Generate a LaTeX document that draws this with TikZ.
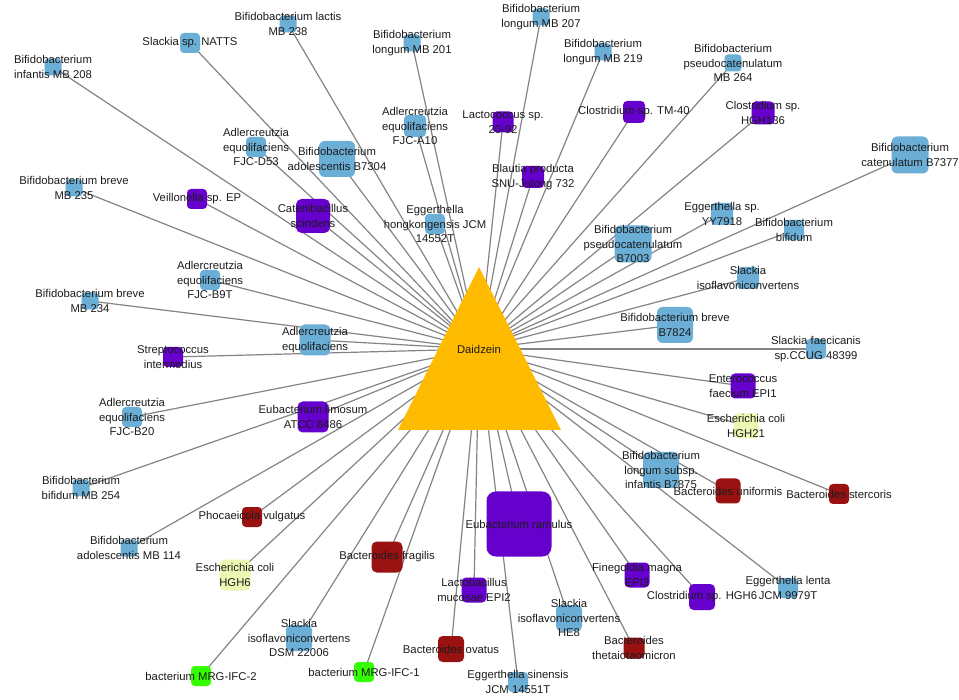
\documentclass[tikz,border=0pt]{standalone}
\usepackage{fontspec}
\setmainfont{Liberation Sans}
\definecolor{bluenode}{RGB}{107,174,214}
\definecolor{purplenode}{RGB}{102,0,204}
\definecolor{rednode}{RGB}{153,17,17}
\definecolor{yellownode}{RGB}{237,246,178}
\definecolor{greennode}{RGB}{51,255,0}
\definecolor{hubcolor}{RGB}{255,187,0}
\definecolor{edgecolor}{RGB}{132,132,132}
\definecolor{labeltext}{RGB}{28,28,28}
\pgfdeclarelayer{canvas}
\pgfdeclarelayer{edges}
\pgfdeclarelayer{labels}
\pgfsetlayers{canvas,edges,main,labels}
\tikzset{
  blu/.style={fill=bluenode},
  pur/.style={fill=purplenode},
  red/.style={fill=rednode},
  yel/.style={fill=yellownode},
  grn/.style={fill=greennode},
  sq/.style={rectangle, inner sep=0pt, draw=none},
  lbl/.style={inner sep=0pt, align=center, text=labeltext,
    font=\fontsize{11.3}{14.5}\selectfont},
  edge/.style={draw=edgecolor, line width=1.2pt},
}
% #1 name, #2 position, #3 square size, #4 colour style, #5 text
\newcommand\taxon[5]{%
  \node[sq,#4,minimum size=#3pt,rounded corners={0.12*#3pt+1.5pt}] (#1) at (#2) {};
  \begin{pgfonlayer}{edges}\draw[edge] (#1.center) -- (dz.center);\end{pgfonlayer}
  \begin{pgfonlayer}{labels}\node[lbl] (#1-t) at (#1.center) {#5};\end{pgfonlayer}
}
\begin{document}
\begin{tikzpicture}[x=1pt,y=-1pt]
\begin{pgfonlayer}{canvas}
\fill[white] (0,0) rectangle (959,700);
\end{pgfonlayer}
\useasboundingbox (0,0) rectangle (959,700);
% central compound
\fill[hubcolor] (479,267) -- (561,430) -- (398,430) -- cycle;
\node[lbl] (dz) at (479,349) {Daidzein};
% strains
\taxon{infMB208}{53,67}{17}{blu}{Bifidobacterium\\infantis MB 208}
\taxon{natts}{190,43}{20}{blu}{Slackia sp. NATTS}
\taxon{lacMB238}{288,24}{17}{blu}{Bifidobacterium lactis\\MB 238}
\taxon{lonMB201}{412,43}{17}{blu}{Bifidobacterium\\longum MB 201}
\taxon{lonMB207}{541,17}{17}{blu}{Bifidobacterium\\longum MB 207}
\taxon{lonMB219}{603,52}{17}{blu}{Bifidobacterium\\longum MB 219}
\taxon{psMB264}{733,63}{17}{blu}{Bifidobacterium\\pseudocatenulatum\\MB 264}
\taxon{cloHGH136}{763,113}{23}{pur}{Clostridium sp.\\HGH136}
\taxon{catB7377}{910,155}{37}{blu}{Bifidobacterium\\catenulatum B7377}
\taxon{cloTM40}{634,112}{22}{pur}{Clostridium sp. TM-40}
\taxon{lac2092}{503,122}{21}{pur}{Lactococcus sp.\\20-92}
\taxon{fjcA10}{415,126}{22}{blu}{Adlercreutzia\\equolifaciens\\FJC-A10}
\taxon{blautia}{533,177}{22}{pur}{Blautia producta\\SNU-Julong 732}
\taxon{adoB7304}{337,159}{36}{blu}{Bifidobacterium\\adolescentis B7304}
\taxon{fjcD53}{256,147}{20}{blu}{Adlercreutzia\\equolifaciens\\FJC-D53}
\taxon{cateni}{313,216}{34}{pur}{Catenibacillus\\scindens}
\taxon{hongk}{435,224}{20}{blu}{Eggerthella\\hongkongensis JCM\\14552T}
\taxon{veill}{197,199}{20}{pur}{Veillonella sp. EP}
\taxon{brvMB235}{74,188}{17}{blu}{Bifidobacterium breve\\MB 235}
\taxon{fjcB9T}{210,280}{20}{blu}{Adlercreutzia\\equolifaciens\\FJC-B9T}
\taxon{brvMB234}{90,301}{17}{blu}{Bifidobacterium breve\\MB 234}
\taxon{adler}{315,340}{31}{blu}{Adlercreutzia\\equolifaciens}
\taxon{strep}{173,357}{20}{pur}{Streptococcus\\intermedius}
\taxon{fjcB20}{132,417}{20}{blu}{Adlercreutzia\\equolifaciens\\FJC-B20}
\taxon{limosum}{313,417}{31}{pur}{Eubacterium limosum\\ATCC 8486}
\taxon{bifMB254}{81,488}{17}{blu}{Bifidobacterium\\bifidum MB 254}
\taxon{phoc}{252,517}{20}{red}{Phocaeicola vulgatus}
\taxon{adoMB114}{129,548}{17}{blu}{Bifidobacterium\\adolescentis MB 114}
\taxon{ecHGH6}{235,575}{31}{yel}{Escherichia coli\\HGH6}
\taxon{slDSM}{299,638}{26}{blu}{Slackia\\isoflavoniconvertens\\DSM 22006}
\taxon{mrg2}{201,676}{20}{grn}{bacterium MRG-IFC-2}
\taxon{fragilis}{387,557}{31}{red}{Bacteroides fragilis}
\taxon{mrg1}{364,672}{20}{grn}{bacterium MRG-IFC-1}
\taxon{ovatus}{451,649}{26}{red}{Bacteroides ovatus}
\taxon{mucosae}{474,590}{25}{pur}{Lactobacillus\\mucosae EPI2}
\taxon{ramulus}{519,524}{65}{pur}{Eubacterium ramulus}
\taxon{sinensis}{518,682}{20}{blu}{Eggerthella sinensis\\JCM 14551T}
\taxon{slHE8}{569,618}{26}{blu}{Slackia\\isoflavoniconvertens\\HE8}
\taxon{theta}{634,648}{21}{red}{Bacteroides\\thetaiotaomicron}
\taxon{finegoldia}{637,575}{25}{pur}{Finegoldia magna\\EPI3}
\taxon{cloHGH6}{702,597}{26}{pur}{Clostridium sp. HGH6}
\taxon{lenta}{788,588}{20}{blu}{Eggerthella lenta\\JCM 9979T}
\taxon{uniformis}{728,491}{25}{red}{Bacteroides uniformis}
\taxon{stercoris}{839,494}{20}{red}{Bacteroides stercoris}
\taxon{lonB7875}{661,470}{36}{blu}{Bifidobacterium\\longum subsp.\\infantis B7875}
\taxon{ecHGH21}{746,426}{25}{yel}{Escherichia coli\\HGH21}
\taxon{epi1}{743,386}{25}{pur}{Enterococcus\\faecium EPI1}
\taxon{faecicanis}{816,349}{20}{blu}{Slackia faecicanis\\sp.CCUG 48399}
\taxon{brvB7824}{675,325}{36}{blu}{Bifidobacterium breve\\B7824}
\taxon{slIso}{748,278}{22}{blu}{Slackia\\isoflavoniconvertens}
\taxon{bifidum}{794,230}{20}{blu}{Bifidobacterium\\bifidum}
\taxon{yy7918}{722,214}{22}{blu}{Eggerthella sp.\\YY7918}
\taxon{psB7003}{633,244}{37}{blu}{Bifidobacterium\\pseudocatenulatum\\B7003}
\end{tikzpicture}
\end{document}
